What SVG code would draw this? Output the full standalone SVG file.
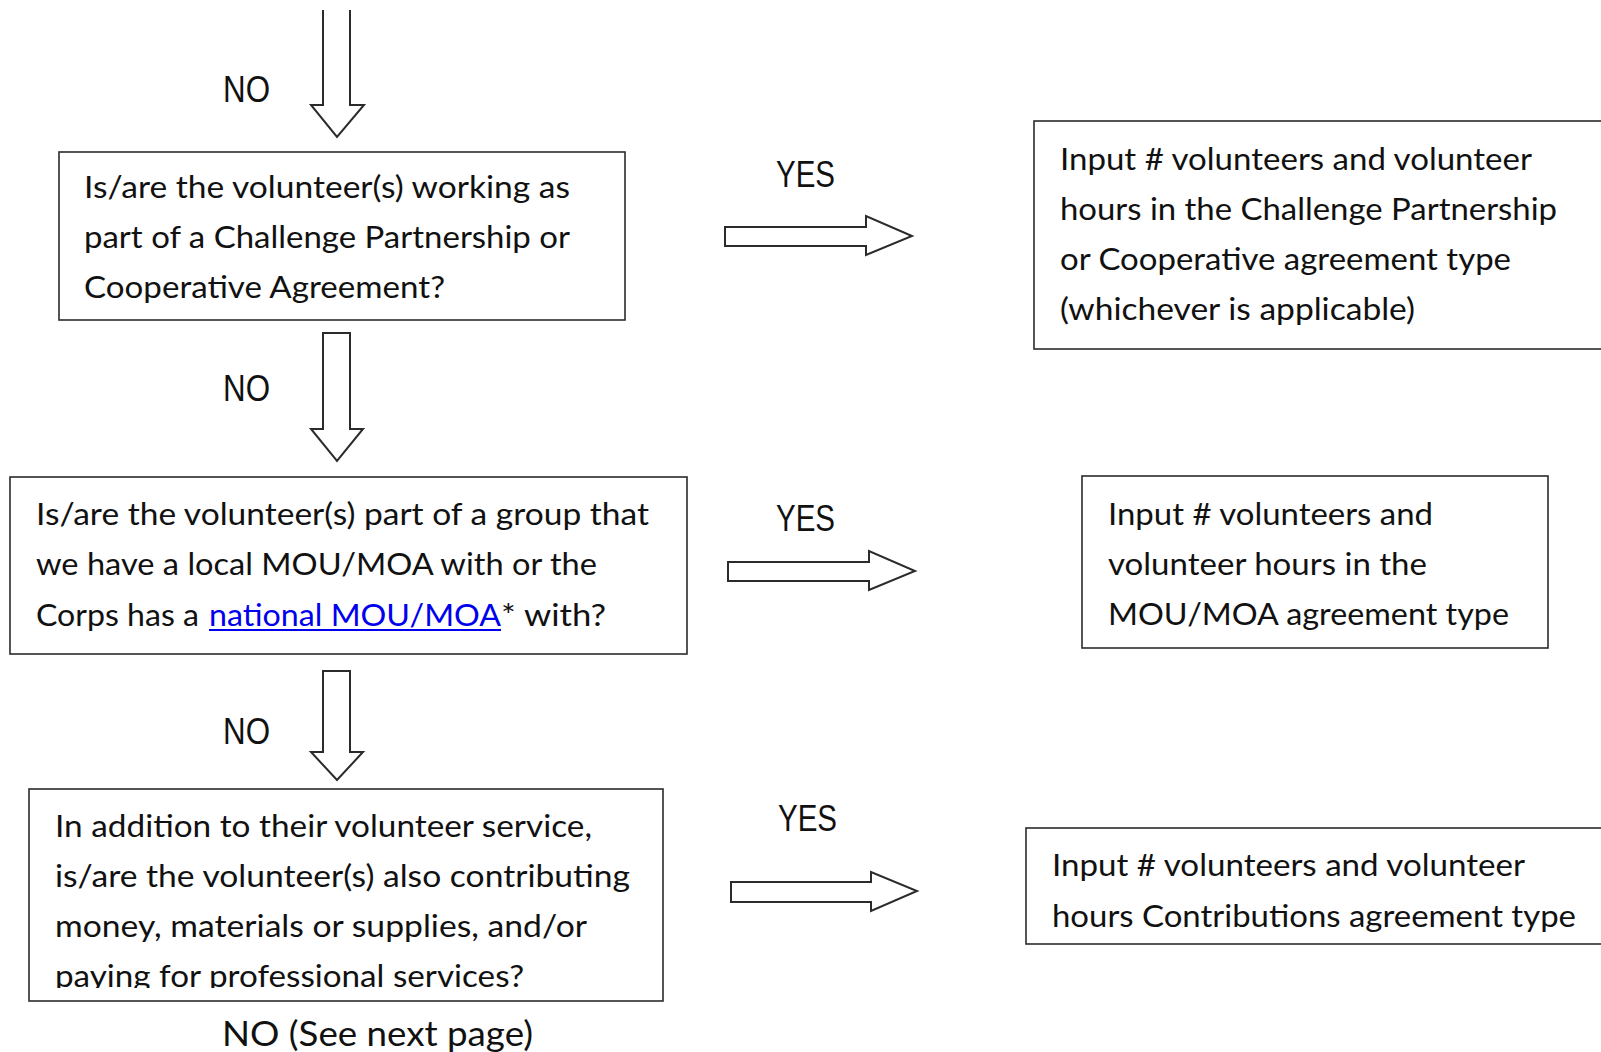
<svg xmlns="http://www.w3.org/2000/svg" width="1601" height="1052" viewBox="0 0 1601 1052">
<style>
.box{fill:#fff;stroke:#2b2b2b;stroke-width:1.6}
.arr{fill:#fff;stroke:#2b2b2b;stroke-width:2;stroke-linejoin:miter}
.t{font-family:Lato,"Open Sans","Noto Sans",sans-serif;font-size:31px;fill:#111}
.lbl{font-family:"Liberation Sans",Arial,sans-serif;font-size:37px;fill:#111}
.link{fill:#0000ee}
</style>
<defs>
<clipPath id="clip3"><rect x="29" y="789" width="634" height="199"/></clipPath>
</defs>
<rect width="1601" height="1052" fill="#fff"/>

<g id="connectors">
<path class="arr" d="M323,10 V105 H311 L337,137 L364,105 H350 V10"/>
<path class="arr" d="M323,333 H350 V429 H363 L337,461 L311,429 H323 Z"/>
<path class="arr" d="M323,671 H350 V752 H363 L337,780 L311,752 H323 Z"/>
<path class="arr" d="M725,227 H866 V216 L912,236 L866,255 V246 H725 Z"/>
<path class="arr" d="M728,562 H869 V551 L915,571 L869,590 V581 H728 Z"/>
<path class="arr" d="M731,882 H871 V872 L917,891 L871,911 V902 H731 Z"/>
<text class="lbl" x="223" y="102" textLength="47" lengthAdjust="spacingAndGlyphs">NO</text>
<text class="lbl" x="223" y="401" textLength="47" lengthAdjust="spacingAndGlyphs">NO</text>
<text class="lbl" x="223" y="744" textLength="47" lengthAdjust="spacingAndGlyphs">NO</text>
<text class="lbl" x="776" y="187" textLength="59" lengthAdjust="spacingAndGlyphs">YES</text>
<text class="lbl" x="776" y="531" textLength="59" lengthAdjust="spacingAndGlyphs">YES</text>
<text class="lbl" x="778" y="831" textLength="59" lengthAdjust="spacingAndGlyphs">YES</text>
<text class="t" x="222" y="1046" style="font-size:34px" textLength="311" lengthAdjust="spacingAndGlyphs">NO (See next page)</text>
</g>

<g id="q1">
<rect class="box" x="59" y="152" width="566" height="168"/>
<text class="t" x="84" y="198" textLength="486" lengthAdjust="spacingAndGlyphs">Is/are the volunteer(s) working as</text>
<text class="t" x="84" y="248" textLength="486" lengthAdjust="spacingAndGlyphs">part of a Challenge Partnership or</text>
<text class="t" x="84" y="298" textLength="361" lengthAdjust="spacingAndGlyphs">Cooperative Agreement?</text>
</g>

<g id="q2">
<rect class="box" x="10" y="477" width="677" height="177"/>
<text class="t" x="36" y="525" textLength="613" lengthAdjust="spacingAndGlyphs">Is/are the volunteer(s) part of a group that</text>
<text class="t" x="36" y="575" textLength="561" lengthAdjust="spacingAndGlyphs">we have a local MOU/MOA with or the</text>
<text class="t" x="36" y="626" textLength="163" lengthAdjust="spacingAndGlyphs">Corps has a</text>
<text class="t link" x="209" y="626" textLength="292" lengthAdjust="spacingAndGlyphs">national MOU/MOA</text>
<line x1="209" y1="630" x2="501" y2="630" stroke="#0000ee" stroke-width="2"/>
<text class="t" x="501" y="626" textLength="105" lengthAdjust="spacingAndGlyphs">* with?</text>
</g>

<g id="q3">
<rect class="box" x="29" y="789" width="634" height="212"/>
<g clip-path="url(#clip3)">
<text class="t" x="55" y="837" textLength="537" lengthAdjust="spacingAndGlyphs">In addition to their volunteer service,</text>
<text class="t" x="55" y="887" textLength="575" lengthAdjust="spacingAndGlyphs">is/are the volunteer(s) also contributing</text>
<text class="t" x="55" y="937" textLength="532" lengthAdjust="spacingAndGlyphs">money, materials or supplies, and/or</text>
<text class="t" x="55" y="987" textLength="469" lengthAdjust="spacingAndGlyphs">paying for professional services?</text>
</g>
</g>

<g id="a1">
<rect class="box" x="1034" y="121" width="580" height="228"/>
<text class="t" x="1060" y="170" textLength="472" lengthAdjust="spacingAndGlyphs">Input # volunteers and volunteer</text>
<text class="t" x="1060" y="220" textLength="497" lengthAdjust="spacingAndGlyphs">hours in the Challenge Partnership</text>
<text class="t" x="1060" y="270" textLength="451" lengthAdjust="spacingAndGlyphs">or Cooperative agreement type</text>
<text class="t" x="1060" y="320" textLength="355" lengthAdjust="spacingAndGlyphs">(whichever is applicable)</text>
</g>

<g id="a2">
<rect class="box" x="1082" y="476" width="466" height="172"/>
<text class="t" x="1108" y="525" textLength="325" lengthAdjust="spacingAndGlyphs">Input # volunteers and</text>
<text class="t" x="1108" y="575" textLength="319" lengthAdjust="spacingAndGlyphs">volunteer hours in the</text>
<text class="t" x="1108" y="625" textLength="401" lengthAdjust="spacingAndGlyphs">MOU/MOA agreement type</text>
</g>

<g id="a3">
<rect class="box" x="1026" y="828" width="590" height="116"/>
<text class="t" x="1052" y="876" textLength="473" lengthAdjust="spacingAndGlyphs">Input # volunteers and volunteer</text>
<text class="t" x="1052" y="927" textLength="524" lengthAdjust="spacingAndGlyphs">hours Contributions agreement type</text>
</g>
</svg>
